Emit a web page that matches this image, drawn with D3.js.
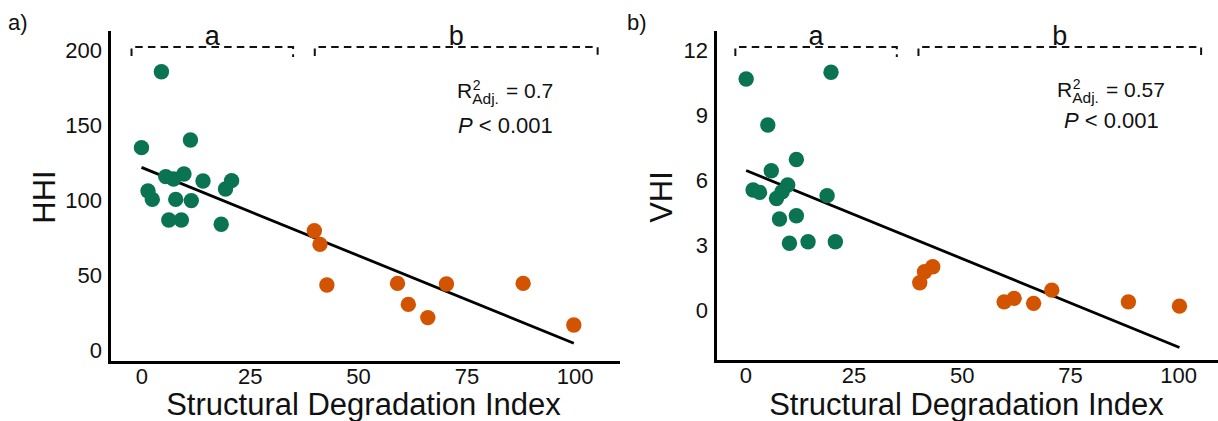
<!DOCTYPE html>
<html>
<head>
<meta charset="utf-8">
<script src="https://cdn.jsdelivr.net/npm/d3@7"></script>
<style>
  html, body { margin: 0; padding: 0; background: #fff; }
  svg { display: block; font-family: "Liberation Sans", Arial, sans-serif; }
</style>
</head>
<body>
<svg id="chart" width="1218" height="421"></svg>
<script>
// Structural Degradation Index (x) against HHI and VHI, grouped by cluster
const hhiGroupA_sdi = [4.6, 0, 11.3, 5.6, 7.4, 9.8, 14.2, 20.8, 19.4, 1.5, 2.5, 7.9, 11.5, 6.3, 9.2, 18.4];
const hhiGroupA_val = [185.5, 134.9, 140, 115.6, 114, 117.3, 112.7, 112.9, 107.3, 106, 100.4, 100.4, 99.6, 86.7, 86.7, 83.8];
const hhiGroupB_sdi = [39.9, 41.2, 42.8, 59.1, 61.6, 66.1, 70.4, 88.1, 99.8];
const hhiGroupB_val = [79.5, 70.4, 43.3, 44.4, 30.4, 21.6, 44, 44.4, 16.7];

const vhiGroupA_sdi = [0.2, 19.8, 5.2, 11.8, 6.0, 1.8, 3.3, 9.8, 8.5, 7.2, 18.9, 7.9, 11.8, 10.2, 14.5, 20.8];
const vhiGroupA_val = [10.66, 10.97, 8.54, 6.95, 6.43, 5.54, 5.43, 5.77, 5.46, 5.15, 5.28, 4.2, 4.35, 3.08, 3.15, 3.15];
const vhiGroupB_sdi = [40.3, 41.4, 43.3, 59.8, 62.1, 66.6, 70.8, 88.5, 100.3];
const vhiGroupB_val = [1.26, 1.77, 2.0, 0.38, 0.54, 0.31, 0.92, 0.38, 0.18];

const xTicks = [0, 25, 50, 75, 100];
const hhiTicks = [0, 50, 100, 150, 200];
const vhiTicks = [0, 3, 6, 9, 12];

const groupNames = ["a", "b"];
const groupSpans = [[-2.3, 35], [40, 105.3]];

const hhiStats = { r2: "0.7", p: "0.001" };
const vhiStats = { r2: "0.57", p: "0.001" };

const colA = "#0a7351";
const colB = "#d35400";

const svg = d3.select("#chart");

function linearFit(xs, ys) {
  const n = xs.length;
  const mx = d3.mean(xs), my = d3.mean(ys);
  let sxy = 0, sxx = 0;
  for (let i = 0; i < n; i++) {
    sxy += (xs[i] - mx) * (ys[i] - my);
    sxx += (xs[i] - mx) ** 2;
  }
  const slope = sxy / sxx;
  return { slope, intercept: my - slope * mx };
}

function panel(cfg) {
  const g = svg.append("g");
  const x = d3.scaleLinear().domain(cfg.xDomain).range(cfg.xRange);
  const y = d3.scaleLinear().domain(cfg.yDomain).range(cfg.yRange);

  // axes: lines and labels only, no tick marks
  const xAxis = g.append("g")
    .attr("transform", `translate(0,${cfg.yRange[0]})`)
    .call(d3.axisBottom(x).tickValues(xTicks).tickSize(0).tickPadding(6));
  const yAxis = g.append("g")
    .attr("transform", `translate(${cfg.xRange[0]},0)`)
    .call(d3.axisLeft(y).tickValues(cfg.yTicks).tickSize(0).tickPadding(7));
  [xAxis, yAxis].forEach(a => {
    a.select(".domain").attr("stroke", "#000").attr("stroke-width", 3).attr("stroke-linecap", "square");
    a.selectAll("text").attr("font-size", 22).attr("fill", "#111").attr("font-family", "Liberation Sans, Arial, sans-serif");
  });

  // axis titles
  g.append("text")
    .attr("x", (cfg.xRange[0] + cfg.xRange[1]) / 2)
    .attr("y", 415)
    .attr("text-anchor", "middle")
    .attr("font-size", 31)
    .attr("fill", "#111")
    .text("Structural Degradation Index");
  g.append("text")
    .attr("transform", `translate(${cfg.yTitleX},197) rotate(-90)`)
    .attr("text-anchor", "middle")
    .attr("font-size", 31)
    .attr("fill", "#111")
    .text(cfg.yTitle);

  // panel tag
  g.append("text")
    .attr("x", cfg.tagX).attr("y", 30)
    .attr("font-size", 22).attr("fill", "#111")
    .text(cfg.tag);

  // group brackets
  groupNames.forEach((name, i) => {
    const [a, b] = groupSpans[i];
    const x0 = x(a), x1 = x(b), yb = 47;
    g.append("path")
      .attr("d", `M${x0},${yb + 9}V${yb}H${x1}V${yb + 10}`)
      .attr("fill", "none")
      .attr("stroke", "#111")
      .attr("stroke-width", 2)
      .attr("stroke-dasharray", "7.5,5.2");
    g.append("text")
      .attr("x", (x0 + x1) / 2).attr("y", 45)
      .attr("text-anchor", "middle")
      .attr("font-size", 27).attr("fill", "#111")
      .text(name);
  });

  // regression line across all sites
  const allX = cfg.aX.concat(cfg.bX);
  const allY = cfg.aY.concat(cfg.bY);
  const fit = linearFit(allX, allY);
  const [xmin, xmax] = d3.extent(allX);
  g.append("path")
    .datum([xmin, xmax])
    .attr("d", d3.line().x(d => x(d)).y(d => y(fit.intercept + fit.slope * d)))
    .attr("stroke", "#000")
    .attr("stroke-width", 2.8)
    .attr("fill", "none");

  // points
  const pts = cfg.aX.map((v, i) => ({ x: v, y: cfg.aY[i], c: colA }))
    .concat(cfg.bX.map((v, i) => ({ x: v, y: cfg.bY[i], c: colB })));
  g.selectAll("circle.pt").data(pts).join("circle")
    .attr("class", "pt")
    .attr("cx", d => x(d.x)).attr("cy", d => y(d.y))
    .attr("r", 7.7)
    .attr("fill", d => d.c);

  // fit statistics
  const ax = cfg.statX, by = cfg.statY;
  const R = g.append("text").attr("x", ax).attr("y", by).attr("font-size", 21).attr("fill", "#111").text("R");
  const rw = R.node().getComputedTextLength();
  g.append("text").attr("x", ax + rw + 0.5).attr("y", by - 8).attr("font-size", 14).attr("fill", "#111").text("2");
  const sub = g.append("text").attr("x", ax + rw).attr("y", by + 6).attr("font-size", 15.5).attr("fill", "#111").text("Adj.");
  const sw = sub.node().getComputedTextLength();
  g.append("text").attr("x", ax + rw + sw + 7).attr("y", by).attr("font-size", 21).attr("fill", "#111")
    .text("= " + cfg.stats.r2);
  const pT = g.append("text").attr("x", cfg.pX).attr("y", cfg.pY).attr("font-size", 22).attr("fill", "#111");
  pT.append("tspan").attr("font-style", "italic").text("P");
  pT.append("tspan").text(" < " + cfg.stats.p);
}

panel({
  xDomain: [-7.5, 110], xRange: [109, 618],
  yDomain: [-8, 212], yRange: [362, 32],
  yTicks: hhiTicks, yTitle: "HHI", yTitleX: 55,
  tag: "a)", tagX: 8,
  aX: hhiGroupA_sdi, aY: hhiGroupA_val, bX: hhiGroupB_sdi, bY: hhiGroupB_val,
  stats: hhiStats, statX: 457, statY: 98, pX: 458, pY: 133
});

panel({
  xDomain: [-7, 109.2], xRange: [715, 1218],
  yDomain: [-2.35, 12.83], yRange: [361, 32],
  yTicks: vhiTicks, yTitle: "VHI", yTitleX: 672,
  tag: "b)", tagX: 627,
  aX: vhiGroupA_sdi, aY: vhiGroupA_val, bX: vhiGroupB_sdi, bY: vhiGroupB_val,
  stats: vhiStats, statX: 1057, statY: 97, pX: 1064, pY: 128
});
</script>
</body>
</html>
